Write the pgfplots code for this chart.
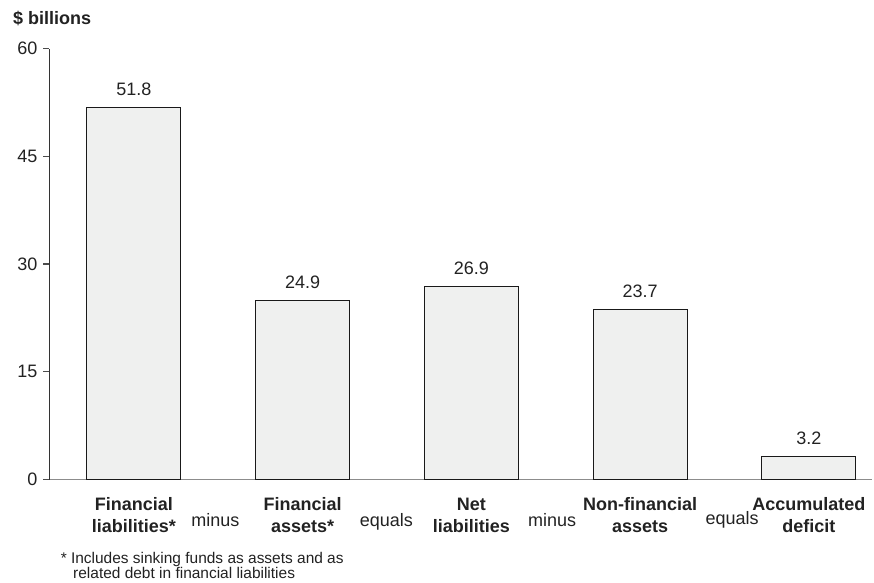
\documentclass[border=0pt]{standalone}
\usepackage{pgfplots}
\pgfplotsset{compat=1.18}
\usepackage{fontspec}
\setmainfont{Liberation Sans}
\definecolor{barfill}{HTML}{EFF0EF}
\definecolor{txt}{HTML}{222222}
\begin{document}
\begin{tikzpicture}
\useasboundingbox (-37.125pt,-76.875pt) rectangle (618.375pt,359.625pt);
\begin{axis}[
 scale only axis, width=616.9pt, height=323.25pt,
 xmin=-0.5, xmax=4.375, ymin=0, ymax=60,
 axis x line=bottom, axis y line=left,
 x axis line style={-, draw=black!45, line width=1pt},
 y axis line style={-, draw=black!80, line width=0.8pt},
 ytick={0,15,30,45,60},
 tick align=outside, major tick length=4.5pt,
 ytick style={draw=black!70, line width=0.8pt},
 xtick=\empty,
 yticklabel style={font=\fontsize{13.5}{16}\selectfont, text=txt, xshift=-1pt},
 /pgf/number format/assume math mode=true,
 clip=false,
 ybar, bar width=0.557,
 nodes near coords,
 every node near coord/.append style={font=\fontsize{13.5}{16}\selectfont, text=txt, anchor=base, yshift=9pt},
 nodes near coords style={/pgf/number format/.cd, fixed, fixed zerofill, precision=1},
]
\addplot[fill=barfill, draw=black!90, line width=0.8pt] coordinates {(0,51.8) (1,24.9) (2,26.9) (3,23.7) (4,3.2)};
\tikzset{lab/.style={anchor=base, text=txt, font=\fontsize{13.5}{16}\selectfont\bfseries, inner sep=0pt},
 word/.style={anchor=base, text=txt, font=\fontsize{13.5}{16}\selectfont, inner sep=0pt}}
\node[lab, yshift=-23.6pt] at (axis cs:0,0) {Financial};
\node[lab, yshift=-39.4pt] at (axis cs:0,0) {liabilities*};
\node[lab, yshift=-23.6pt] at (axis cs:1,0) {Financial};
\node[lab, yshift=-39.4pt] at (axis cs:1,0) {assets*};
\node[lab, yshift=-23.6pt] at (axis cs:2,0) {Net};
\node[lab, yshift=-39.4pt] at (axis cs:2,0) {liabilities};
\node[lab, yshift=-23.6pt] at (axis cs:3,0) {Non-financial};
\node[lab, yshift=-39.4pt] at (axis cs:3,0) {assets};
\node[lab, yshift=-23.6pt] at (axis cs:4,0) {Accumulated};
\node[lab, yshift=-39.4pt] at (axis cs:4,0) {deficit};
\node[word, yshift=-35.6pt] at (axis cs:0.483,0) {minus};
\node[word, yshift=-35.6pt] at (axis cs:1.496,0) {equals};
\node[word, yshift=-35.6pt] at (axis cs:2.479,0) {minus};
\node[word, yshift=-34pt] at (axis cs:3.546,0) {equals};
\end{axis}
\node[anchor=base west, inner sep=0pt, text=txt, font=\fontsize{13.5}{16}\selectfont\bfseries] at (-27.4pt,340.9pt) {\$ billions};
\node[anchor=base west, inner sep=0pt, text=txt, font=\fontsize{11.6}{14}\selectfont] at (8.25pt,-62.9pt) {* Includes sinking funds as assets and as};
\node[anchor=base west, inner sep=0pt, text=txt, font=\fontsize{11.6}{14}\selectfont] at (17.6pt,-74.3pt) {related debt in financial liabilities};
\end{tikzpicture}
\end{document}
